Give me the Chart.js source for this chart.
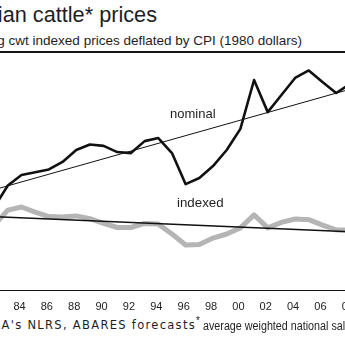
<!DOCTYPE html>
<html>
<head>
<meta charset="utf-8">
<script src="https://cdn.jsdelivr.net/npm/chart.js@4/dist/chart.umd.min.js"></script>
<style>
  html, body { margin: 0; padding: 0; background: #fff; }
  #page { position: relative; width: 345px; height: 345px; overflow: hidden;
          font-family: "Liberation Sans", Arial, sans-serif; color: #1e1e1e; }
  .t { position: absolute; white-space: nowrap; line-height: 1; }
  #title { left: -243px; width: 400px; text-align: right; top: 3.5px; font-size: 21.7px; }
  #subtitle { left: -98px; width: 400px; text-align: right; top: 34px; font-size: 13.5px; }
  #rule { position: absolute; left: 0; top: 51px; width: 345px; height: 1.5px; background: #151515; }
  #plot { position: absolute; left: -40px; top: 51px; }
  #lblNominal { left: 170px; top: 107px; font-size: 13px; }
  #lblIndexed { left: 177px; top: 196px; font-size: 13.3px; }
  #source { left: -205px; width: 401px; text-align: right; top: 320px; font-size: 11.5px;
            font-family: "DejaVu Sans", sans-serif; letter-spacing: 1.3px; }
  #star { left: 196px; top: 316px; font-size: 10px; }
  #note { left: 203px; top: 320px; font-size: 12px; transform: scaleX(0.895); transform-origin: 0 0; }
</style>
</head>
<body>
<div id="page">
  <div class="t" id="title">Australian cattle* prices</div>
  <div class="t" id="subtitle">c/kg cwt indexed prices deflated by CPI (1980 dollars)</div>
  <div id="rule"></div>
  <canvas id="plot" width="430" height="263"></canvas>
  <div class="t" id="lblNominal">nominal</div>
  <div class="t" id="lblIndexed">indexed</div>
  <div class="t" id="source">Source: MLA's NLRS, ABARES forecasts</div>
  <div class="t" id="star">*</div>
  <div class="t" id="note">average weighted national saleyard price</div>
</div>
<script>
// Annual cattle prices, c/kg carcase weight
const years = [1982, 1983, 1984, 1985, 1986, 1987, 1988, 1989, 1990, 1991, 1992, 1993, 1994,
               1995, 1996, 1997, 1998, 1999, 2000, 2001, 2002, 2003, 2004, 2005, 2006, 2007, 2008];
const nominal = [121, 153, 168.5, 172.5, 176.5, 187.5, 205, 213, 211, 202, 200.5, 218, 222.5,
                 200.5, 155, 164, 181.5, 205, 236, 307.5, 260.5, 285.5, 310.5, 321.5, 304.5, 288.5, 301.5];
const indexed = [95, 117, 121.5, 114, 107.5, 107, 108.5, 104.5, 97.5, 91.5, 91.5, 97.5, 96.5,
                 82, 66, 66.5, 76, 82, 91, 110, 91, 99, 104, 103, 95, 88, 88];

// Linear trend lines (end points)
const trendYears = [1980, 2008];
const nominalTrend = [135.6, 293.9];
const indexedTrend = [109, 85.4];

// Axis labels
const tickYears = [1984, 1986, 1988, 1990, 1992, 1994, 1996, 1998, 2000, 2002, 2004, 2006, 2008];

const pts = (xs, ys) => xs.map((x, i) => ({ x: x, y: ys[i] }));
const FONT = '"Liberation Sans", Arial, sans-serif';

new Chart(document.getElementById('plot'), {
  type: 'line',
  data: {
    datasets: [
      { data: pts(years, indexed), borderColor: '#b5b5b5', borderWidth: 5, order: 4 },
      { data: pts(trendYears, indexedTrend), borderColor: '#111', borderWidth: 1.6, order: 3 },
      { data: pts(trendYears, nominalTrend), borderColor: '#111', borderWidth: 1, order: 2 },
      { data: pts(years, nominal), borderColor: '#111', borderWidth: 2.6, order: 1 }
    ]
  },
  options: {
    responsive: false,
    animation: false,
    devicePixelRatio: 1,
    layout: { padding: 0 },
    plugins: { legend: { display: false }, tooltip: { enabled: false } },
    elements: {
      point: { radius: 0 },
      line: { tension: 0, borderJoinStyle: 'round', borderCapStyle: 'round' }
    },
    scales: {
      x: {
        type: 'linear',
        min: 1979.5044,
        max: 2010.937,
        grid: { display: false, drawTicks: false },
        border: { display: true, color: '#111', width: 1 },
        afterBuildTicks: (s) => { s.ticks = tickYears.map(v => ({ value: v })); },
        afterFit: (s) => { s.height = 24; },
        ticks: {
          autoSkip: false, maxRotation: 0, padding: 10, labelOffset: -2,
          color: '#222', font: { family: FONT, size: 11 },
          callback: (v) => String(v % 100).padStart(2, '0')
        }
      },
      y: { display: false, min: 0, max: 350 }
    }
  }
});
</script>
</body>
</html>
